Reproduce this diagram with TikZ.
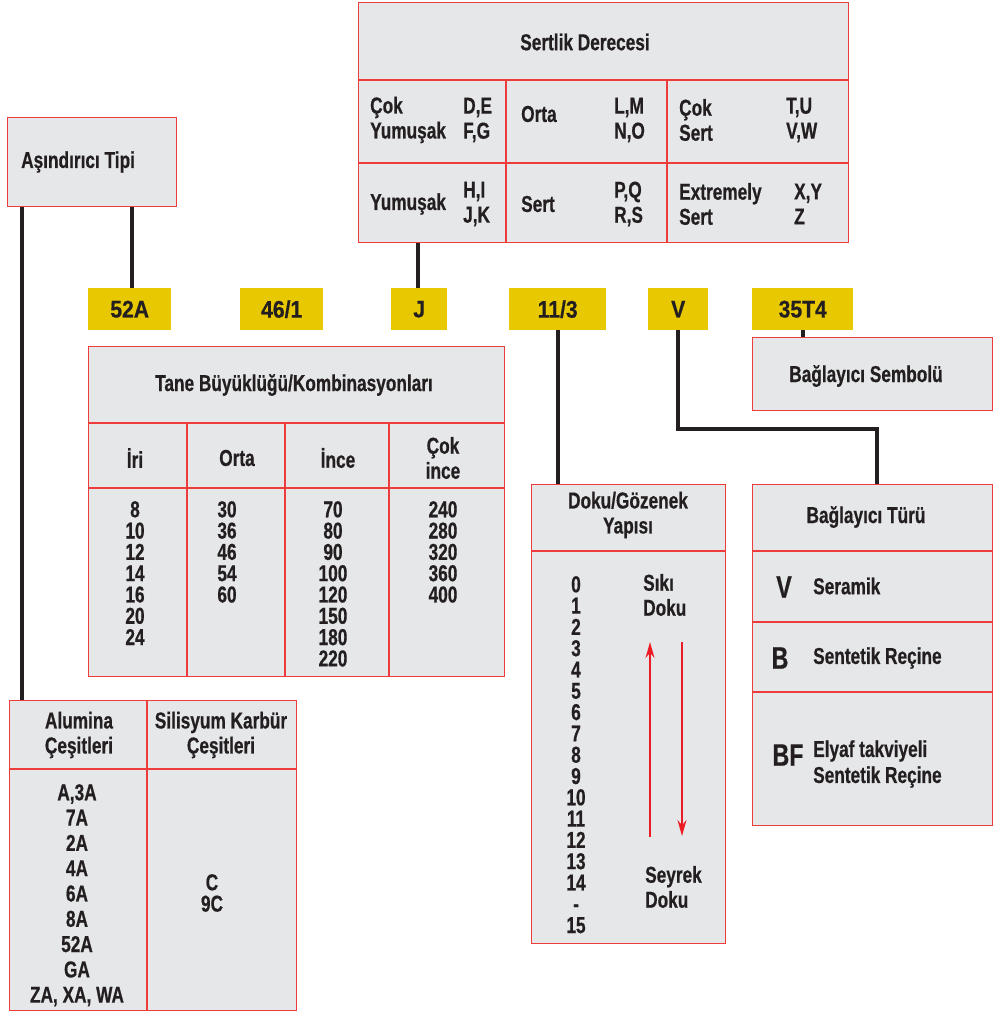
\documentclass[tikz,border=0pt]{standalone}
\usepackage{fontspec}
\setmainfont{Liberation Sans}[FakeStretch=0.75, BoldFeatures={FakeBold=0.6}]
\newfontfamily\tagfam{Liberation Sans}[FakeStretch=0.88, BoldFeatures={FakeBold=0.6}]
\usetikzlibrary{arrows.meta}
\definecolor{boxfill}{RGB}{230,231,233}
\definecolor{boxred}{RGB}{238,60,60}
\definecolor{ylw}{RGB}{232,200,0}
\definecolor{ink}{RGB}{35,31,32}
\definecolor{arrred}{RGB}{237,28,36}
\newcommand\mytxt{\bfseries\fontsize{23}{25}\selectfont}
\newcommand\mytag{\tagfam\bfseries\fontsize{24}{25}\selectfont}
\newcommand\mylist{\bfseries\fontsize{23}{21.3}\selectfont}
\newcommand\mylistb{\bfseries\fontsize{23}{25.3}\selectfont}
\newcommand\mybig{\bfseries\fontsize{31}{32}\selectfont}
\begin{document}
\begin{tikzpicture}[x=1pt,y=-1pt,
  panel/.style={draw=boxred, fill=boxfill, line width=1.3pt, anchor=north west, inner sep=0pt},
  tag/.style={fill=ylw, anchor=north west, inner sep=0pt, font=\mytag, text=ink},
  txt/.style={font=\mytxt, text=ink, inner sep=0pt, align=center},
  ltxt/.style={font=\mytxt, text=ink, inner sep=0pt, align=left, anchor=west},
  lst/.style={font=\mylist, text=ink, inner sep=0pt, align=center, anchor=north},
  lstb/.style={font=\mylistb, text=ink, inner sep=0pt, align=center, anchor=north},
  bigl/.style={font=\mybig, text=ink, inner sep=0pt},
  link/.style={draw=ink, line width=4pt, line join=miter},
  grid/.style={draw=boxred, line width=1.3pt},
  flow/.style={draw=arrred, line width=1.4pt, -{Stealth[length=16pt,width=9pt]}}]
\useasboundingbox (0,0) rectangle (994,1011);

% ---------- boxes ----------
\node[panel, minimum width=490, minimum height=240] (sd) at (358,2) {};
\node[panel, minimum width=169, minimum height=89] (at) at (7,117) {};
\node[panel, minimum width=416, minimum height=330] (tb) at (88,346) {};
\node[panel, minimum width=287, minimum height=310] (al) at (9,700) {};
\node[panel, minimum width=194, minimum height=459] (dk) at (531,484) {};
\node[panel, minimum width=240, minimum height=73] (bs) at (752,337) {};
\node[panel, minimum width=240, minimum height=341] (bt) at (752,484) {};

% ---------- yellow tags ----------
\node[tag, minimum width=83, minimum height=42] (t52) at (88,288) {52A};
\node[tag, minimum width=83, minimum height=42] (t46) at (240,288) {46/1};
\node[tag, minimum width=56, minimum height=42] (tj) at (391,288) {J};
\node[tag, minimum width=97, minimum height=42] (t113) at (509,288) {11/3};
\node[tag, minimum width=60, minimum height=42] (tv) at (648,288) {V};
\node[tag, minimum width=101, minimum height=42] (t35) at (752,288) {35T4};

% ---------- connectors ----------
\draw[link] ([xshift=15]at.south west) -- ([xshift=13]al.north west);
\draw[link] ([xshift=2.5]t52.north) -- ([xshift=2.5]t52.north |- at.south);
\draw[link] ([xshift=-1]tj.north) -- ([xshift=-1]tj.north |- sd.south);
\draw[link] (t113.south) -- (t113.south |- dk.north);
\coordinate (bend) at (877,429);
\draw[link] (tv.south) |- (bend) -- (bend |- bt.north);
\draw[link] (t35.south) -- (t35.south |- bs.north);

% ---------- Sertlik Derecesi ----------
\draw[grid] (358,80) -- (848,80);
\draw[grid] (358,163) -- (848,163);
\draw[grid] (506,80) -- (506,242);
\draw[grid] (667,80) -- (667,242);
\node[txt] (sdh) at (585,42) {Sertlik Derecesi};
\node[ltxt] (s1) at (370,120) {Çok\\Yumuşak};
\node[ltxt] (s2) at (463,120) {D,E\\F,G};
\node[ltxt] (s3) at (521,114) {Orta};
\node[ltxt] (s4) at (614,120) {L,M\\N,O};
\node[ltxt] (s5) at (679,120) {Çok\\Sert};
\node[ltxt] (s6) at (786,120) {T,U\\V,W};
\node[ltxt] (s7) at (370,204) {Yumuşak};
\node[ltxt] (s8) at (463,204) {H,I\\J,K};
\node[ltxt] (s9) at (521,204) {Sert};
\node[ltxt] (s10) at (614,204) {P,Q\\R,S};
\node[ltxt] (s11) at (679,204) {Extremely\\Sert};
\node[ltxt] (s12) at (794,204) {X,Y\\Z};

% ---------- Aşındırıcı Tipi ----------
\node[ltxt] (ath) at (21,162) {Aşındırıcı Tipi};

% ---------- Tane Büyüklüğü ----------
\draw[grid] (88,423) -- (504,423);
\draw[grid] (88,488) -- (504,488);
\draw[grid] (187,423) -- (187,676);
\draw[grid] (285,423) -- (285,676);
\draw[grid] (389,423) -- (389,676);
\node[txt] (tbh) at (294,385) {Tane Büyüklüğü/Kombinasyonları};
\node[txt] (tc1) at (135,458) {İri};
\node[txt] (tc2) at (237,458) {Orta};
\node[txt] (tc3) at (338,458) {İnce};
\node[txt] (tc4) at (443,458) {Çok\\ince};
\node[lst] (tl1) at (135,501) {8\\10\\12\\14\\16\\20\\24};
\node[lst] (tl2) at (227,501) {30\\36\\46\\54\\60};
\node[lst] (tl3) at (333,501) {70\\80\\90\\100\\120\\150\\180\\220};
\node[lst] (tl4) at (443,501) {240\\280\\320\\360\\400};

% ---------- Alumina / Silisyum ----------
\draw[grid] (9,769) -- (296,769);
\draw[grid] (147,700) -- (147,1010);
\node[txt] (ah1) at (79,735) {Alumina\\Çeşitleri};
\node[txt] (ah2) at (221,735) {Silisyum Karbür\\Çeşitleri};
\node[lstb] (al1) at (77,784) {A,3A\\7A\\2A\\4A\\6A\\8A\\52A\\GA\\ZA, XA, WA};
\node[lst] (al2) at (212,874) {C\\9C};

% ---------- Doku / Gözenek ----------
\draw[grid] (531,551) -- (725,551);
\node[txt] (dkh) at (628,515) {Doku/Gözenek\\Yapısı};
\node[lst] (dkl) at (576,576) {0\\1\\2\\3\\4\\5\\6\\7\\8\\9\\10\\11\\12\\13\\14\\-\\15};
\node[ltxt] (dk1) at (643,595) {Sıkı\\Doku};
\node[ltxt] (dk2) at (645,887) {Seyrek\\Doku};
\coordinate (upS) at (650,837);
\coordinate (upE) at (650,642);
\coordinate (dnS) at (682,642);
\coordinate (dnE) at (682,836);
\draw[flow] (upS) -- (upE);
\draw[flow] (dnS) -- (dnE);

% ---------- Bağlayıcı Sembolü ----------
\node[txt] (bsh) at (866,376) {Bağlayıcı Sembolü};

% ---------- Bağlayıcı Türü ----------
\draw[grid] (752,551) -- (992,551);
\draw[grid] (752,622) -- (992,622);
\draw[grid] (752,692) -- (992,692);
\node[txt] (bth) at (866,517) {Bağlayıcı Türü};
\node[bigl] (bv) at (784,587) {V};
\node[ltxt] (bv2) at (813,586) {Seramik};
\node[bigl] (bb) at (780,658) {B};
\node[ltxt] (bb2) at (813,658) {Sentetik Reçine};
\node[bigl] (bf) at (788,755) {BF};
\node[ltxt, font=\bfseries\fontsize{23}{26}\selectfont] (bf2) at (813,764) {Elyaf takviyeli\\Sentetik Reçine};
\end{tikzpicture}
\end{document}
